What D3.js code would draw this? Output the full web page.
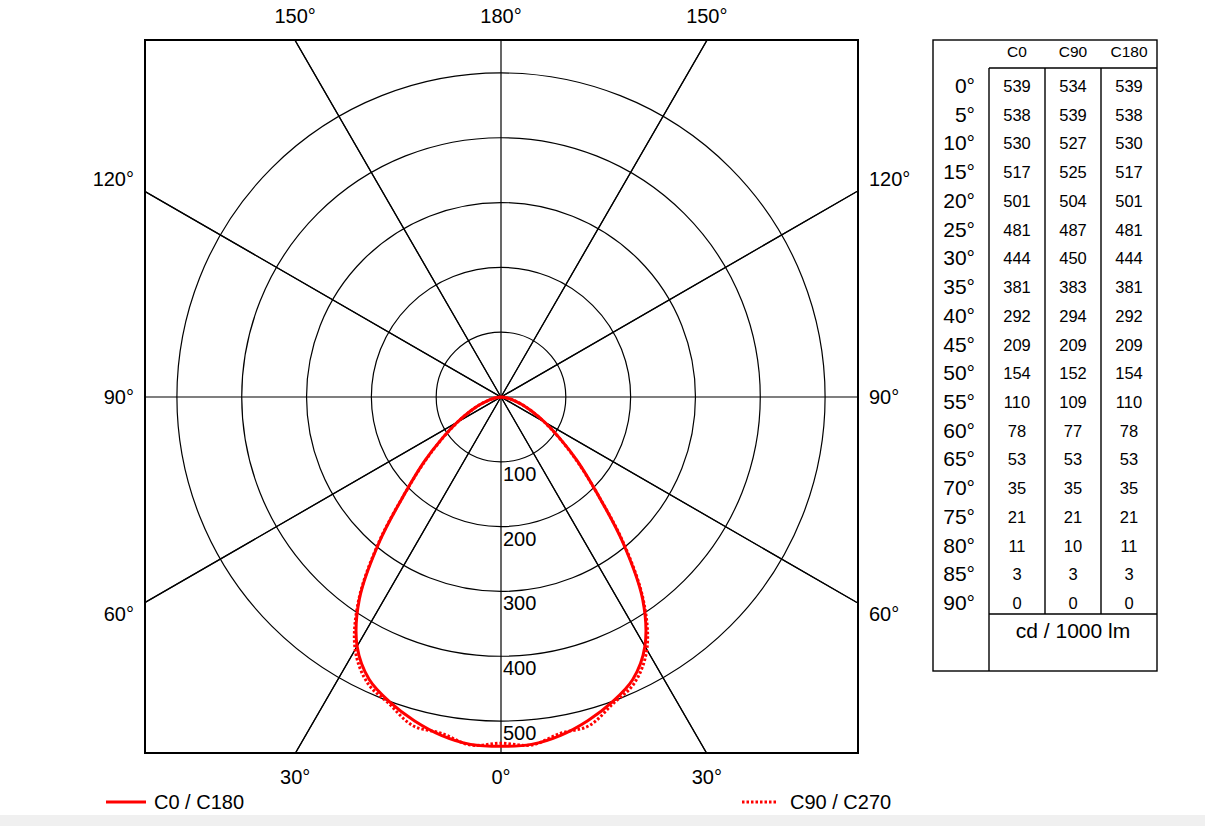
<!DOCTYPE html>
<html><head><meta charset="utf-8">
<script src="https://cdn.jsdelivr.net/npm/d3@7"></script>
<style>body{margin:0;background:#fff;font-family:"Liberation Sans",Arial,sans-serif;}</style>
</head><body>
<svg id="c" width="1205" height="826"></svg>
<script>
const gammas = [0,5,10,15,20,25,30,35,40,45,50,55,60,65,70,75,80,85,90];
const c0   = [539,538,530,517,501,481,444,381,292,209,154,110,78,53,35,21,11,3,0];
const c90  = [534,539,527,525,504,487,450,383,294,209,152,109,77,53,35,21,10,3,0];
const c180 = [539,538,530,517,501,481,444,381,292,209,154,110,78,53,35,21,11,3,0];
const columns = ["C0","C90","C180"];
const ringValues = [100,200,300,400,500];
const spokeAngles = [0,30,60,90,120,150,180];
const unitLabel = "cd / 1000 lm";
const legendLabels = ["C0 / C180","C90 / C270"];

const svg = d3.select("#c");
svg.append("rect").attr("x",0).attr("y",815).attr("width",1205).attr("height",11).attr("fill","#f0f0f0");

const box = {x0:145, x1:858, y0:40, y1:753};
const cx = 501, cy = 397;
const r = d3.scaleLinear().domain([0,550]).range([0,356.5]);
const font = "Liberation Sans, Arial, sans-serif";

const g = svg.append("g");
g.append("clipPath").attr("id","clip").append("rect")
  .attr("x",box.x0).attr("y",box.y0).attr("width",box.x1-box.x0).attr("height",box.y1-box.y0);
const inner = g.append("g").attr("clip-path","url(#clip)");

// rings
inner.selectAll("circle.ring").data(ringValues).join("circle")
  .attr("cx",cx).attr("cy",cy).attr("r",d=>r(d)).attr("fill","none").attr("stroke","#000").attr("stroke-width",1.2);

// spokes (full lines through center)
const L = 800;
spokeAngles.filter(a=>a<180).forEach(a=>{
  const t = a*Math.PI/180;
  [1,-1].forEach(s=>{
    if (a===0 && s===-1) return;
    if (a===90 && s===-1) return;
    const dx = s*Math.sin(t), dy = Math.cos(t);
    inner.append("line").attr("x1",cx-dx*L).attr("y1",cy-dy*L).attr("x2",cx+dx*L).attr("y2",cy+dy*L)
      .attr("stroke","#000").attr("stroke-width",1.2);
  });
});

// curves
function pts(vals, side){
  return gammas.map((gm,i)=>[side*r(vals[i])*Math.sin(gm*Math.PI/180), r(vals[i])*Math.cos(gm*Math.PI/180)]);
}
function fullCurve(left, right){
  const lp = pts(left,-1).slice().reverse();
  const rp = pts(right,1).slice(1);
  return lp.concat(rp);
}
const line = d3.line().x(d=>cx+d[0]).y(d=>cy+d[1]).curve(d3.curveCatmullRom.alpha(0.5));
inner.append("path").attr("d",line(fullCurve(c90,c90))).attr("fill","none")
  .attr("stroke","#ff0000").attr("stroke-width",3).attr("stroke-dasharray","2.5,2");
inner.append("path").attr("d",line(fullCurve(c180,c0))).attr("fill","none")
  .attr("stroke","#ff0000").attr("stroke-width",3);

// ring labels
g.selectAll("text.ring").data(ringValues).join("text")
  .attr("x",cx+2).attr("y",d=>cy+r(d)+19).text(d=>d)
  .attr("font-family",font).attr("font-size",20).attr("fill","#000");

// box
g.append("rect").attr("x",box.x0).attr("y",box.y0).attr("width",box.x1-box.x0).attr("height",box.y1-box.y0)
  .attr("fill","none").attr("stroke","#000").attr("stroke-width",2);

// angle labels
const half = (box.x1-box.x0)/2;
const tan30 = Math.tan(Math.PI/6)*half;
const labels = [
  {t:"150°",x:cx-tan30,y:box.y0-17,a:"middle"},
  {t:"180°",x:cx,y:box.y0-17,a:"middle"},
  {t:"150°",x:cx+tan30,y:box.y0-17,a:"middle"},
  {t:"30°",x:cx-tan30,y:box.y1+31,a:"middle"},
  {t:"0°",x:cx,y:box.y1+31,a:"middle"},
  {t:"30°",x:cx+tan30,y:box.y1+31,a:"middle"},
  {t:"120°",x:box.x0-11,y:cy-tan30-5,a:"end"},
  {t:"90°",x:box.x0-11,y:cy+7,a:"end"},
  {t:"60°",x:box.x0-11,y:cy+tan30+18,a:"end"},
  {t:"120°",x:box.x1+11,y:cy-tan30-5,a:"start"},
  {t:"90°",x:box.x1+11,y:cy+7,a:"start"},
  {t:"60°",x:box.x1+11,y:cy+tan30+18,a:"start"},
];
g.selectAll("text.ang").data(labels).join("text")
  .attr("x",d=>d.x).attr("y",d=>d.y).attr("text-anchor",d=>d.a).text(d=>d.t)
  .attr("font-family",font).attr("font-size",20).attr("fill","#000");

// legend
svg.append("line").attr("x1",106).attr("x2",146).attr("y1",802).attr("y2",802).attr("stroke","#ff0000").attr("stroke-width",3);
svg.append("text").attr("x",154).attr("y",809).text(legendLabels[0]).attr("font-family",font).attr("font-size",20);
svg.append("line").attr("x1",742).attr("x2",778).attr("y1",802).attr("y2",802).attr("stroke","#ff0000").attr("stroke-width",3).attr("stroke-dasharray","2.5,2");
svg.append("text").attr("x",790).attr("y",809).text(legendLabels[1]).attr("font-family",font).attr("font-size",20);

// table
const T = svg.append("g");
const tx0=933, tx1=1157, ty0=40, ty1=671, colX=[989,1045,1101,1157], hdrY=68, dataBottom=614;
const st = s=>s.attr("stroke","#000").attr("stroke-width",1.4);
st(T.append("rect").attr("x",tx0).attr("y",ty0).attr("width",tx1-tx0).attr("height",ty1-ty0).attr("fill","none"));
st(T.append("line").attr("x1",colX[0]).attr("x2",tx1).attr("y1",hdrY).attr("y2",hdrY));
st(T.append("line").attr("x1",colX[0]).attr("x2",colX[0]).attr("y1",hdrY).attr("y2",ty1));
[1,2].forEach(i=>st(T.append("line").attr("x1",colX[i]).attr("x2",colX[i]).attr("y1",hdrY).attr("y2",dataBottom)));
st(T.append("line").attr("x1",colX[0]).attr("x2",tx1).attr("y1",dataBottom).attr("y2",dataBottom));
columns.forEach((c,i)=>T.append("text").attr("x",(colX[i]+colX[i+1])/2).attr("y",57).attr("text-anchor","middle")
  .text(c).attr("font-family",font).attr("font-size",15.5));
const rowY = d3.scaleLinear().domain([0,18]).range([86,603]);
const cols = [c0,c90,c180];
gammas.forEach((gm,i)=>{
  T.append("text").attr("x",975).attr("y",rowY(i)+7).attr("text-anchor","end").text(gm+"°")
    .attr("font-family",font).attr("font-size",21);
  cols.forEach((arr,j)=>T.append("text").attr("x",(colX[j]+colX[j+1])/2).attr("y",rowY(i)+6).attr("text-anchor","middle")
    .text(arr[i]).attr("font-family",font).attr("font-size",16.5));
});
T.append("text").attr("x",(colX[0]+tx1)/2).attr("y",638).attr("text-anchor","middle").text(unitLabel)
  .attr("font-family",font).attr("font-size",21);
</script>
</body></html>
